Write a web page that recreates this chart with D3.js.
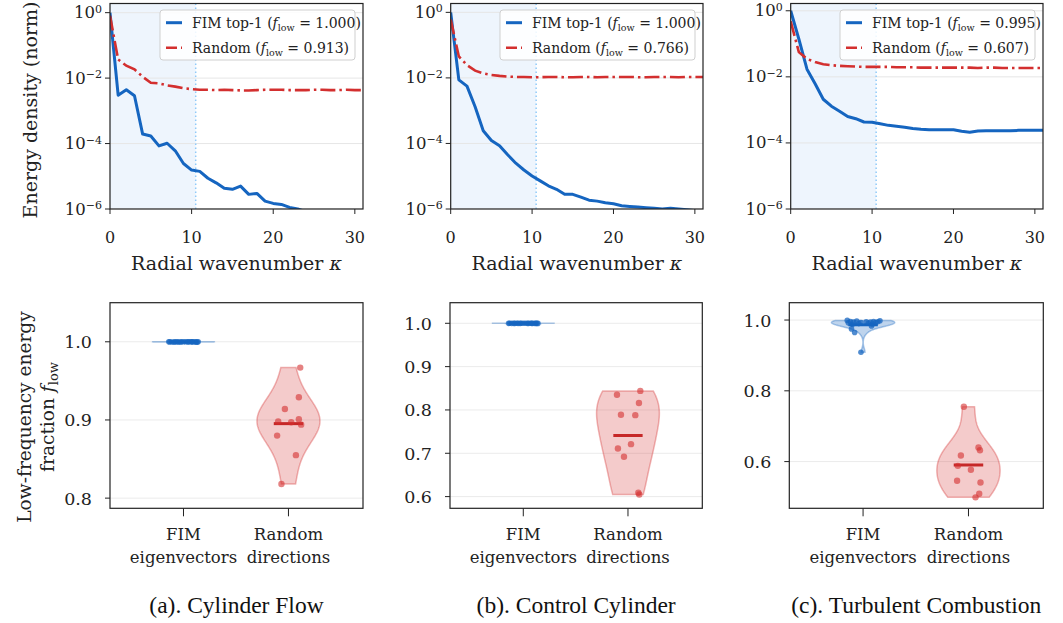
<!DOCTYPE html>
<html><head><meta charset="utf-8">
<script src="https://cdn.jsdelivr.net/npm/d3@7"></script>
<style>body{margin:0;background:#fff} svg{display:block}</style>
</head><body>
<svg id="chart" width="1063" height="623"></svg>
<script>
// ---------------- DATA ----------------
const kappa = [0,1,2,3,4,5,6,7,8,9,10,11,12,13,14,15,16,17,18,19,20,21,22,23,24,25,26,27,28,29,30,31];

const cylFim  = [1.0,3.0e-3,4.4e-3,2.9e-3,1.95e-4,1.7e-4,8.5e-5,1.02e-4,6.0e-5,2.45e-5,1.55e-5,1.41e-5,8.7e-6,6.3e-6,4.3e-6,4.0e-6,5.0e-6,2.8e-6,3.0e-6,1.74e-6,1.48e-6,1.38e-6,1.12e-6,1.0e-6,8.3e-7,7.1e-7,6.3e-7,5.6e-7,5.0e-7,4.5e-7,4.0e-7,3.5e-7];
const cylRand = [0.8,3.7e-2,2.4e-2,1.86e-2,1.1e-2,7.2e-3,6.9e-3,6.0e-3,5.5e-3,4.9e-3,4.6e-3,4.4e-3,4.4e-3,4.3e-3,4.4e-3,4.3e-3,4.2e-3,4.2e-3,4.3e-3,4.4e-3,4.4e-3,4.4e-3,4.3e-3,4.3e-3,4.3e-3,4.4e-3,4.4e-3,4.3e-3,4.3e-3,4.4e-3,4.3e-3,4.3e-3];

const ctrlFim  = [1.0,8.7e-3,5.6e-3,1.32e-3,2.45e-4,1.23e-4,8.5e-5,4.5e-5,2.5e-5,1.55e-5,1.02e-5,7.2e-6,5.1e-6,4.0e-6,2.8e-6,2.8e-6,2.3e-6,1.86e-6,1.74e-6,1.55e-6,1.45e-6,1.26e-6,1.2e-6,1.15e-6,1.1e-6,1.05e-6,1.0e-6,1.05e-6,1.0e-6,9.5e-7,8.9e-7,8.3e-7];
const ctrlRand = [0.6,4.5e-2,2.45e-2,1.66e-2,1.38e-2,1.23e-2,1.15e-2,1.1e-2,1.07e-2,1.07e-2,1.05e-2,1.05e-2,1.07e-2,1.07e-2,1.05e-2,1.05e-2,1.07e-2,1.07e-2,1.05e-2,1.07e-2,1.07e-2,1.07e-2,1.07e-2,1.05e-2,1.05e-2,1.07e-2,1.07e-2,1.07e-2,1.05e-2,1.07e-2,1.07e-2,1.07e-2];

const combFim  = [1.0,0.14,1.7e-2,6.2e-3,2.1e-3,1.29e-3,9.1e-4,6.3e-4,5.4e-4,4.3e-4,4.2e-4,3.8e-4,3.4e-4,3.2e-4,3.0e-4,2.75e-4,2.6e-4,2.5e-4,2.5e-4,2.5e-4,2.5e-4,2.25e-4,2.1e-4,2.3e-4,2.35e-4,2.35e-4,2.35e-4,2.35e-4,2.4e-4,2.4e-4,2.4e-4,2.4e-4];
const combRand = [0.48,5.6e-2,3.5e-2,2.8e-2,2.4e-2,2.25e-2,2.15e-2,2.1e-2,2.05e-2,2.0e-2,2.0e-2,2.0e-2,2.0e-2,1.95e-2,1.95e-2,1.95e-2,1.9e-2,1.9e-2,1.9e-2,1.9e-2,1.9e-2,1.9e-2,1.9e-2,1.86e-2,1.9e-2,1.9e-2,1.86e-2,1.86e-2,1.86e-2,1.86e-2,1.86e-2,1.86e-2];

const fimFlow  = ["1.000","1.000","0.995"];
const randFlow = ["0.913","0.766","0.607"];
const cutoff = 10.5;

const xTicksTop = [0,10,20,30];
const yTicksTop = [1e0,1e-2,1e-4,1e-6];
const yTickExp  = ["0","\u22122","\u22124","\u22126"];

const categories = [["FIM","eigenvectors"],["Random","directions"]];

// low-frequency fractions
const cylFimF  = [1.0000,0.9999,0.9999,0.9998,1.0000,0.9999,0.9997,1.0000,0.9999,0.9998,1.0000,0.9999,0.9999,0.9998,1.0000,0.9999,0.9996,1.0000,0.9999,0.9998];
const cylRandF = [0.967,0.929,0.914,0.901,0.898,0.897,0.894,0.880,0.855,0.818];
const ctrlFimF = [1.0000,0.9999,0.9998,0.9999,1.0000,0.9998,0.9999,1.0000,0.9997,0.9999,1.0000,0.9999,0.9998,0.9999,1.0000,0.9999,0.9998,1.0000,0.9999,0.9998];
const ctrlRandF= [0.844,0.835,0.816,0.788,0.789,0.721,0.711,0.692,0.609,0.605];
const combFimF = [0.999,0.998,0.997,0.996,0.996,0.995,0.995,0.994,0.994,0.993,0.993,0.992,0.991,0.990,0.989,0.988,0.983,0.975,0.965,0.909];
const combRandF= [0.755,0.640,0.632,0.617,0.588,0.577,0.546,0.541,0.509,0.499];

// horizontal jitter of the dots (category units)
const fimJit   = [-0.13,0.05,-0.08,0.12,-0.02,0.09,-0.11,0.02,0.14,-0.05,0.07,-0.14,0.11,-0.09,0.0,0.04,0.13,-0.06,0.08,-0.03];
const combFimJit = [-0.15,0.16,-0.06,0.1,-0.12,0.03,0.14,-0.09,0.07,-0.02,0.12,-0.14,0.05,-0.04,0.09,-0.1,0.08,-0.11,-0.08,-0.02];
const cylRandJit = [0.112,0.099,-0.034,0.099,-0.098,0.026,0.121,-0.108,0.071,-0.067];
const ctrlRandJit= [0.118,-0.105,0.105,0.07,-0.067,0.029,-0.096,-0.038,0.099,0.108];
const combRandJit= [-0.044,0.095,0.109,-0.072,-0.101,0.023,-0.108,0.114,0.102,0.067];

const yTicksBot = [[0.8,0.9,1.0],[0.6,0.7,0.8,0.9,1.0],[0.6,0.8,1.0]];
const captions = ["(a). Cylinder Flow","(b). Control Cylinder","(c). Turbulent Combustion"];

// ---------------- STYLE / LAYOUT ----------------
const FONT = "DejaVu Serif";
const BLUE = "#1565c0", RED = "#d32f2f", RED_D = "#c62828";
const topBoxes = [[110,363],[450.7,703],[790.7,1043]];
const topY = [3.5,209];
const topMaxExp = [0.28,0.27,0.22];
const botBoxes = [[110,363],[450,702.3],[789.3,1043.3]];
const botY = [302.7,508.3];
const botDomains = [[0.787,1.05],[0.573,1.0475],[0.468,1.049]];

const svg = d3.select("#chart");
svg.append("rect").attr("width",1063).attr("height",623).attr("fill","#fff");
const defs = svg.append("defs");

const topSeries = [[cylFim,cylRand],[ctrlFim,ctrlRand],[combFim,combRand]];
const botSeries = [[cylFimF,cylRandF,fimJit,cylRandJit],[ctrlFimF,ctrlRandF,fimJit,ctrlRandJit],[combFimF,combRandF,combFimJit,combRandJit]];

// ---------------- TOP PANELS ----------------
topBoxes.forEach((b,i)=>{
  const g = svg.append("g");
  const x = d3.scaleLinear().domain([0,31]).range(b);
  const y = d3.scaleLog().domain([1e-6, Math.pow(10,topMaxExp[i])]).range([topY[1],topY[0]]);
  const cid = "clipT"+i;
  defs.append("clipPath").attr("id",cid).append("rect")
    .attr("x",b[0]).attr("y",topY[0]).attr("width",b[1]-b[0]).attr("height",topY[1]-topY[0]);
  const body = g.append("g").attr("clip-path",`url(#${cid})`);
  body.append("rect").attr("x",x(0)).attr("y",topY[0]).attr("width",x(cutoff)-x(0))
    .attr("height",topY[1]-topY[0]).attr("fill","#eef5fd");
  yTicksTop.forEach(t=>{
    body.append("line").attr("x1",b[0]).attr("x2",b[1]).attr("y1",y(t)).attr("y2",y(t))
      .attr("stroke","#e6e6e6").attr("stroke-width",1);
  });
  body.append("line").attr("x1",x(cutoff)).attr("x2",x(cutoff)).attr("y1",topY[0]).attr("y2",topY[1])
    .attr("stroke","#90caf9").attr("stroke-width",1.5).attr("stroke-dasharray","1.5,2.5");
  const line = d3.line().x((d,j)=>x(kappa[j])).y(d=>y(d));
  body.append("path").datum(topSeries[i][0]).attr("d",line).attr("fill","none")
    .attr("stroke",BLUE).attr("stroke-width",3).attr("stroke-linejoin","round");
  body.append("path").datum(topSeries[i][1]).attr("d",line).attr("fill","none")
    .attr("stroke",RED).attr("stroke-width",2.6).attr("stroke-dasharray","15,4,2.5,4");
  g.append("rect").attr("x",b[0]).attr("y",topY[0]).attr("width",b[1]-b[0]).attr("height",topY[1]-topY[0])
    .attr("fill","none").attr("stroke","#222").attr("stroke-width",1.2);
  xTicksTop.forEach(t=>{
    g.append("line").attr("x1",x(t)).attr("x2",x(t)).attr("y1",topY[1]).attr("y2",topY[1]+5).attr("stroke","#222");
    g.append("text").attr("x",x(t)).attr("y",243).attr("text-anchor","middle")
      .attr("font-family",FONT).attr("font-size",16).attr("fill","#222").text(t);
  });
  g.append("text").attr("x",(b[0]+b[1])/2).attr("y",270).attr("text-anchor","middle")
    .attr("font-family",FONT).attr("font-size",19).attr("fill","#222")
    .text("Radial wavenumber ").append("tspan").attr("font-style","italic").text("\u03ba");
  yTicksTop.forEach((t,k)=>{
    g.append("line").attr("x1",b[0]-5).attr("x2",b[0]).attr("y1",y(t)).attr("y2",y(t)).attr("stroke","#222");
    const tx = g.append("text").attr("x",b[0]-8).attr("y",y(t)+5.5).attr("text-anchor","end")
      .attr("font-family",FONT).attr("font-size",16.5).attr("fill","#222");
    tx.append("tspan").text("10");
    tx.append("tspan").attr("font-size",11).attr("dy",-5.5).text(yTickExp[k]);
  });
  const lx = b[1]-203, ly = 10;
  const lg = g.append("g");
  lg.append("rect").attr("x",lx).attr("y",ly).attr("width",195).attr("height",50).attr("rx",3)
    .attr("fill","#fff").attr("fill-opacity",0.85).attr("stroke","#cfcfcf");
  const rows = [["FIM top-1",fimFlow[i],BLUE,null,3],["Random",randFlow[i],RED,"11,4",2.6]];
  rows.forEach((r,k)=>{
    const cy = ly + 12.7 + k*25;
    lg.append("line").attr("x1",lx+6).attr("x2",lx+22).attr("y1",cy).attr("y2",cy)
      .attr("stroke",r[2]).attr("stroke-width",r[4]).attr("stroke-dasharray",r[3]);
    const t = lg.append("text").attr("x",lx+32).attr("y",cy+5).attr("font-family",FONT)
      .attr("font-size",14).attr("fill","#222");
    t.append("tspan").text(r[0]+" (");
    t.append("tspan").attr("font-style","italic").text("f");
    t.append("tspan").attr("font-size",9.5).attr("dy",3).text("low");
    t.append("tspan").attr("dy",-3).text(" = "+r[1]+")");
  });
});

svg.append("text").attr("transform","translate(37,110) rotate(-90)").attr("text-anchor","middle")
  .attr("font-family",FONT).attr("font-size",19).attr("fill","#222").text("Energy density (norm)");

// ---------------- BOTTOM PANELS ----------------
function kdeShape(vals){
  const n = vals.length, sd = d3.deviation(vals);
  const bw = Math.max(sd*Math.pow(n,-0.2),1e-6);
  const lo = d3.min(vals), hi = d3.max(vals);
  const pts = d3.range(100).map(k=>lo+(hi-lo)*k/99);
  const dens = pts.map(p=>d3.sum(vals,v=>Math.exp(-0.5*((p-v)/bw)**2)));
  const mx = d3.max(dens);
  return pts.map((p,k)=>[p,dens[k]/mx]);
}

botBoxes.forEach((b,i)=>{
  const g = svg.append("g");
  const x = d3.scaleLinear().domain([-0.7,1.71]).range(b);
  const y = d3.scaleLinear().domain(botDomains[i]).range([botY[1],botY[0]]);
  yTicksBot[i].forEach(t=>{
    g.append("line").attr("x1",b[0]).attr("x2",b[1]).attr("y1",y(t)).attr("y2",y(t))
      .attr("stroke","#ebebeb").attr("stroke-width",1);
  });
  const sets = [[botSeries[i][0],botSeries[i][2],BLUE,BLUE,0.28],[botSeries[i][1],botSeries[i][3],RED,RED_D,0.25]];
  sets.forEach((s,pos)=>{
    const shape = kdeShape(s[0]);
    const area = d3.area().y(d=>y(d[0])).x0(d=>x(pos-0.3*d[1])).x1(d=>x(pos+0.3*d[1]));
    g.append("path").datum(shape).attr("d",area).attr("fill",s[2]).attr("fill-opacity",s[4])
      .attr("stroke",s[2]).attr("stroke-opacity",0.35).attr("stroke-width",1.5);
    const m = d3.mean(s[0]);
    g.append("line").attr("x1",x(pos-0.14)).attr("x2",x(pos+0.14)).attr("y1",y(m)).attr("y2",y(m))
      .attr("stroke",s[3]).attr("stroke-width",3);
    g.selectAll(null).data(s[0]).enter().append("circle")
      .attr("cx",(d,k)=>x(pos+s[1][k])).attr("cy",d=>y(d)).attr("r",pos===0?2.8:3.2)
      .attr("fill",s[2]).attr("fill-opacity",pos===0?0.75:0.6);
  });
  g.append("rect").attr("x",b[0]).attr("y",botY[0]).attr("width",b[1]-b[0]).attr("height",botY[1]-botY[0])
    .attr("fill","none").attr("stroke","#222").attr("stroke-width",1.2);
  yTicksBot[i].forEach(t=>{
    g.append("line").attr("x1",b[0]-5).attr("x2",b[0]).attr("y1",y(t)).attr("y2",y(t)).attr("stroke","#222");
    g.append("text").attr("x",b[0]-18).attr("y",y(t)+6.5).attr("text-anchor","end")
      .attr("font-family",FONT).attr("font-size",17.5).attr("fill","#222").text(t.toFixed(1));
  });
  categories.forEach((c,pos)=>{
    g.append("line").attr("x1",x(pos)).attr("x2",x(pos)).attr("y1",botY[1]).attr("y2",botY[1]+8).attr("stroke","#222");
    const t = g.append("text").attr("text-anchor","middle").attr("font-family",FONT)
      .attr("font-size",16.5).attr("fill","#222");
    t.append("tspan").attr("x",x(pos)).attr("y",539.5).text(c[0]);
    t.append("tspan").attr("x",x(pos)).attr("y",562.5).text(c[1]);
  });
  svg.append("text").attr("x",(b[0]+b[1])/2).attr("y",613).attr("text-anchor","middle")
    .attr("font-family","Liberation Serif").attr("font-size",23.5).attr("fill","#111").text(captions[i]);
});

const yl = svg.append("text").attr("transform","translate(0,417) rotate(-90)").attr("text-anchor","middle")
  .attr("font-family",FONT).attr("font-size",18.6).attr("fill","#222");
yl.append("tspan").attr("x",0).attr("y",31).text("Low-frequency energy");
const l2 = yl.append("tspan").attr("x",0).attr("y",54);
l2.text("fraction ");
yl.append("tspan").attr("font-style","italic").text("f");
yl.append("tspan").attr("font-size",13).attr("dy",4).text("low");
</script>
</body></html>
